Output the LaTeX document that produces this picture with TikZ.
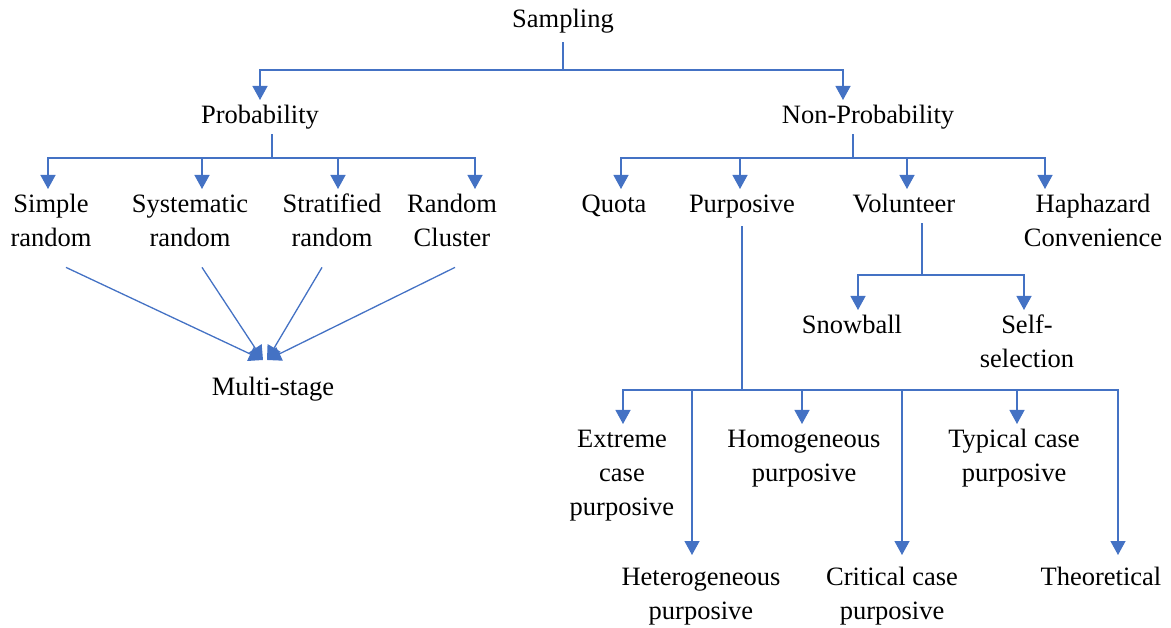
\documentclass[tikz,border=0pt]{standalone}
\usepackage{fontspec}
\setmainfont{Liberation Serif}
\usetikzlibrary{arrows.meta,calc}
\definecolor{linkblue}{HTML}{4472C4}
% stacked label lines, baseline on the first line, every row strut-high
\newcommand\lines[1]{\begin{tabular}[t]{@{}c@{}}#1\end{tabular}}
\begin{document}
\begin{tikzpicture}[x=1pt,y=-1pt,
  lbl/.style={anchor=base,inner sep=0pt,
    font=\fontsize{26.5}{34}\selectfont},
  link/.style={draw=linkblue,line width=1.3pt},
  arr/.style={link,-{Triangle[width=15pt,length=14pt]}}]
\useasboundingbox (0,0) rectangle (1171,628);

% labels, placed by the baseline of their first line
\node[lbl] (sampling) at (563,28) {\lines{Sampling}};
\node[lbl] (prob) at (260,124) {\lines{Probability}};
\node[lbl] (nonprob) at (868,124) {\lines{Non-Probability}};

\node[lbl] (simple) at (51,213) {\lines{Simple\\random}};
\node[lbl] (systematic) at (190,213) {\lines{Systematic\\random}};
\node[lbl] (stratified) at (332,213) {\lines{Stratified\\random}};
\node[lbl] (cluster) at (452,213) {\lines{Random\\Cluster}};
\node[lbl] (multistage) at (273,396) {\lines{Multi-stage}};

\node[lbl] (quota) at (614,213) {\lines{Quota}};
\node[lbl] (purposive) at (742,213) {\lines{Purposive}};
\node[lbl] (volunteer) at (904,213) {\lines{Volunteer}};
\node[lbl] (haphazard) at (1093,213) {\lines{Haphazard\\Convenience}};

\node[lbl] (snowball) at (852,334) {\lines{Snowball}};
\node[lbl] (selfsel) at (1027,334) {\lines{Self-\\selection}};

\node[lbl] (extreme) at (622,448) {\lines{Extreme\\case\\purposive}};
\node[lbl] (homog) at (804,448) {\lines{Homogeneous\\purposive}};
\node[lbl] (typical) at (1014,448) {\lines{Typical case\\purposive}};
\node[lbl] (heterog) at (701,585) {\lines{Heterogeneous\\purposive}};
\node[lbl] (critical) at (892,585) {\lines{Critical case\\purposive}};
\node[lbl] (theoretical) at (1101,585) {\lines{Theoretical}};

% branching points
\coordinate (sbus) at (563,70);
\coordinate (pbus) at (272,158);
\coordinate (nbus) at (853,158);
\coordinate (vbus) at (922,275);
\coordinate (pubus) at (742,390);
\coordinate (msL) at (263,360);
\coordinate (msR) at (267,360);

% Sampling
\draw[link,shorten <=4pt] (sampling) -- (sbus);
\draw[arr] (sbus) -| (prob);
\draw[arr] (sbus) -| ([xshift=-25pt]nonprob.north);

% Probability
\draw[link] (prob.south -| pbus) -- (pbus);
\draw[arr] (pbus) -| ([xshift=-3pt]simple.north);
\draw[arr] (pbus) -| ([xshift=12pt]systematic.north);
\draw[arr] (pbus) -| ([xshift=6pt]stratified.north);
\draw[arr] (pbus) -| ([xshift=23pt]cluster.north);

% converging into Multi-stage
\draw[arr] ($(simple.south)+(15,10)$) -- (msL);
\draw[arr] ($(systematic.south)+(12,10)$) -- (msL);
\draw[arr] ($(stratified.south)+(-10,10)$) -- (msR);
\draw[arr] ($(cluster.south)+(3,10)$) -- (msR);

% Non-Probability
\draw[link] (nonprob.south -| nbus) -- (nbus);
\draw[arr] (nbus) -| ([xshift=7pt]quota.north);
\draw[arr] (nbus) -| ([xshift=-2pt]purposive.north);
\draw[arr] (nbus) -| ([xshift=3pt]volunteer.north);
\draw[arr] (nbus) -| ([xshift=-48pt]haphazard.north);

% Volunteer
\draw[link] (volunteer.south -| vbus) -- (vbus);
\draw[arr] (vbus) -| ([xshift=6pt]snowball.north);
\draw[arr] (vbus) -| ([xshift=-3pt]selfsel.north);

% Purposive
\draw[link,shorten <=3pt] (purposive.south) -- (pubus);
\draw[arr] (pubus) -| ([xshift=1pt]extreme.north);
\draw[arr] (pubus) -| ([xshift=-2pt]homog.north);
\draw[arr] (pubus) -| ([xshift=3pt]typical.north);
\draw[arr,shorten >=6pt] (pubus) -| ([xshift=-9pt]heterog.north);
\draw[arr,shorten >=6pt] (pubus) -| ([xshift=10pt]critical.north);
\draw[arr,shorten >=6pt] (pubus) -| ([xshift=17pt]theoretical.north);
\end{tikzpicture}
\end{document}
